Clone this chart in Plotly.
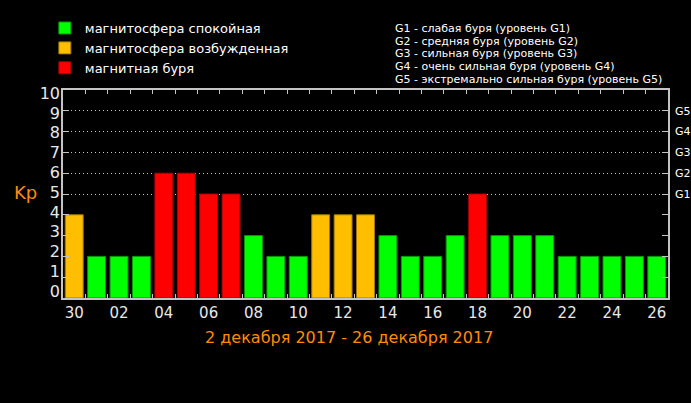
import plotly.graph_objects as go

days = ["30", "01", "02", "03", "04", "05", "06", "07", "08", "09", "10", "11", "12", "13",
        "14", "15", "16", "17", "18", "19", "20", "21", "22", "23", "24", "25", "26"]
kp = [4, 2, 2, 2, 6, 6, 5, 5, 3, 2, 2, 4, 4, 4, 3, 2, 2, 3, 5, 3, 3, 3, 2, 2, 2, 2, 2]
status = ["quiet", "excited", "storm"]
status_names = ["магнитосфера спокойная", "магнитосфера возбужденная", "магнитная буря"]
status_fill = ["#00ff00", "#ffbf00", "#ff0000"]
status_edge = ["#009a00", "#a07800", "#a00000"]
g_levels = [5, 6, 7, 8, 9]
g_labels = ["G1", "G2", "G3", "G4", "G5"]
g_legend = [
    "G1 - слабая буря (уровень G1)",
    "G2 - средняя буря (уровень G2)",
    "G3 - сильная буря (уровень G3)",
    "G4 - очень сильная буря (уровень G4)",
    "G5 - экстремально сильная буря (уровень G5)",
]
date_title = "2 декабря 2017 - 26 декабря 2017"
y_label = "Kp"


def classify(v):
    if v >= 5:
        return "storm"
    if v >= 4:
        return "excited"
    return "quiet"


FONT = "DejaVu Sans"
FRAME = "#c4c4c4"
ORANGE = "#ff8c00"

fig = go.Figure()
for s, name, fill, edge in zip(status, status_names, status_fill, status_edge):
    xs = [d for d, v in zip(days, kp) if classify(v) == s]
    ys = [v for v in kp if classify(v) == s]
    fig.add_trace(go.Bar(
        x=xs, y=ys, name=name, width=0.8,
        marker=dict(color=fill, line=dict(color=edge, width=1)),
        hoverinfo="skip",
    ))

# empty helper traces so the overlay axes (G scale and Kp labels) get drawn
for ax in ["y2", "y3"]:
    fig.add_trace(go.Scatter(x=[days[0]], y=[None], yaxis=ax, mode="markers",
                             showlegend=False, hoverinfo="skip"))

ticktext = [d if i % 2 == 0 else "" for i, d in enumerate(days)]

fig.update_layout(
    width=691, height=403, autosize=False,
    paper_bgcolor="black", plot_bgcolor="black",
    margin=dict(l=63, r=23, t=90, b=105, autoexpand=False),
    barmode="overlay",
    font=dict(family=FONT, color="#e8e8e8"),
    showlegend=True,
    legend=dict(
        x=-0.03, y=1.37, xanchor="left", yanchor="top",
        font=dict(family=FONT, size=13, color="white"),
        bgcolor="rgba(0,0,0,0)", itemclick=False, itemdoubleclick=False,
        tracegroupgap=0,
    ),
    xaxis=dict(
        type="category", categoryorder="array", categoryarray=days,
        range=[-0.5, len(days) - 0.5], automargin=False,
        tickmode="array", tickvals=days, ticktext=ticktext, tickangle=0,
        tickson="boundaries", ticks="inside", ticklen=4, tickwidth=1, tickcolor=FRAME,
        showline=True, linecolor=FRAME, linewidth=2, mirror="ticks",
        showgrid=False, zeroline=False,
        tickfont=dict(family=FONT, size=15, color="#e8e8e8"),
        fixedrange=True,
    ),
    yaxis=dict(
        range=[0, 10], tickmode="linear", tick0=0, dtick=1, automargin=False,
        ticks="inside", ticklen=6, tickwidth=1, tickcolor=FRAME,
        showline=True, linecolor=FRAME, linewidth=2, mirror="ticks",
        showgrid=False, zeroline=False, showticklabels=False,
        fixedrange=True,
    ),
    yaxis2=dict(
        overlaying="y", side="right", anchor="x", automargin=False,
        range=[0, 10], tickmode="array", tickvals=g_levels, ticktext=g_labels,
        showgrid=True, griddash="1px,3px", gridcolor="#c8c8c8", gridwidth=1,
        showline=False, ticks="", zeroline=False,
        tickfont=dict(family=FONT, size=11, color="white"),
        ticklabelstandoff=6,
        fixedrange=True,
    ),
    yaxis3=dict(
        overlaying="y", side="left", anchor="x", automargin=False,
        range=[-0.341, 10.165], tickmode="linear", tick0=0, dtick=1,
        showgrid=False, showline=False, ticks="", zeroline=False,
        tickfont=dict(family=FONT, size=16, color="#e8e8e8"),
        ticklabelstandoff=2,
        fixedrange=True,
    ),
)

# Kp axis label
fig.add_annotation(
    text=y_label, xref="paper", yref="paper", x=-0.062, y=0.505,
    xanchor="center", yanchor="middle", showarrow=False,
    font=dict(family=FONT, size=18, color=ORANGE),
)
# date range title
fig.add_annotation(
    text=date_title, xref="paper", yref="paper", x=0.473, y=-0.19,
    xanchor="center", yanchor="middle", showarrow=False,
    font=dict(family=FONT, size=16, color=ORANGE),
)
# G-scale legend
for i, line in enumerate(g_legend):
    fig.add_annotation(
        text=line, xref="paper", yref="paper", x=0.545, y=1.296 - i * 0.0612,
        xanchor="left", yanchor="middle", showarrow=False,
        font=dict(family=FONT, size=11, color="white"),
    )

fig.write_html("out.html", config={"displayModeBar": False})
